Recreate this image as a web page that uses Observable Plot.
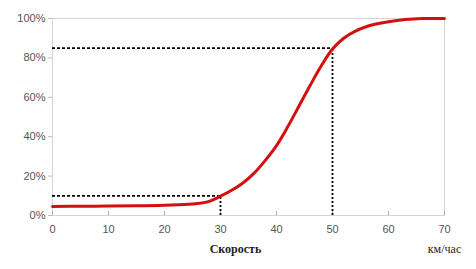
<!DOCTYPE html>
<html><head><meta charset="utf-8">
<script src="https://cdn.jsdelivr.net/npm/d3@7"></script>
<script src="https://cdn.jsdelivr.net/npm/@observablehq/plot@0.6"></script>
<style>body{margin:0;background:#fff}</style>
</head><body><div id="chart"></div>
<script>
const speed = [0,5,10,15,20,25,28,30,32,34,36,38,40,42,44,46,48,50,52,54,56,58,60,63,66,70];
const share = [4.6,4.7,4.8,4.9,5.2,5.8,7.2,9.8,12.8,16.5,21.5,28,35.5,45,55.5,66,76,84.5,90,93.5,95.8,97.3,98.4,99.5,100,100];
const xTicks = [0,10,20,30,40,50,60,70];
const yTicks = [0,20,40,60,80,100];
const marks85 = {x: 50, y: 85};
const marks10 = {x: 30, y: 10};
const xLabel = "Скорость";
const unitLabel = "км/час";

const data = speed.map((s,i)=>({s, p: share[i]}));
const guides = [marks10, marks85];

const chart = Plot.plot({
  width: 476, height: 269,
  marginLeft: 52, marginRight: 32, marginTop: 18, marginBottom: 54,
  style: {fontFamily: "Arial, 'Liberation Sans', sans-serif", fontSize: "11px", color: "#555", background: "#fff"},
  x: {domain: [0,70], ticks: xTicks, label: null},
  y: {domain: [0,100], ticks: yTicks, label: null},
  marks: [
    Plot.frame({stroke: "#d4d4d4"}),
    Plot.axisY({ticks: yTicks, tickFormat: d => d + "%", tickSize: 4, tickPadding: 3, stroke: "#bbb", fill: "#555"}),
    Plot.axisX({ticks: xTicks, tickSize: 0, tickPadding: 10, fill: "#555"}),
    Plot.ruleX(xTicks, {y1: 0, y2: 2, stroke: "#aaa"}),
    Plot.ruleY(guides, {x1: 0, x2: "x", y: "y", stroke: "#000", strokeWidth: 1.8, strokeDasharray: "3,2"}),
    Plot.ruleX(guides, {x: "x", y1: 0, y2: "y", stroke: "#000", strokeWidth: 1.8, strokeDasharray: "2,2"}),
    Plot.line(data, {x: "s", y: "p", stroke: "#d40f0f", strokeWidth: 3, curve: "catmull-rom"}),
    Plot.text([xLabel], {frameAnchor: "bottom", dx: -13, dy: 37, text: d => d, fontFamily: "'Liberation Serif', serif", fontWeight: "bold", fontSize: 12, fill: "#222"}),
    Plot.text([unitLabel], {frameAnchor: "bottom-right", dy: 37, text: d => d, textAnchor: "middle", fontFamily: "'Liberation Serif', serif", fontSize: 12, fill: "#222"})
  ]
});
document.getElementById("chart").appendChild(chart);
</script>
</body></html>
